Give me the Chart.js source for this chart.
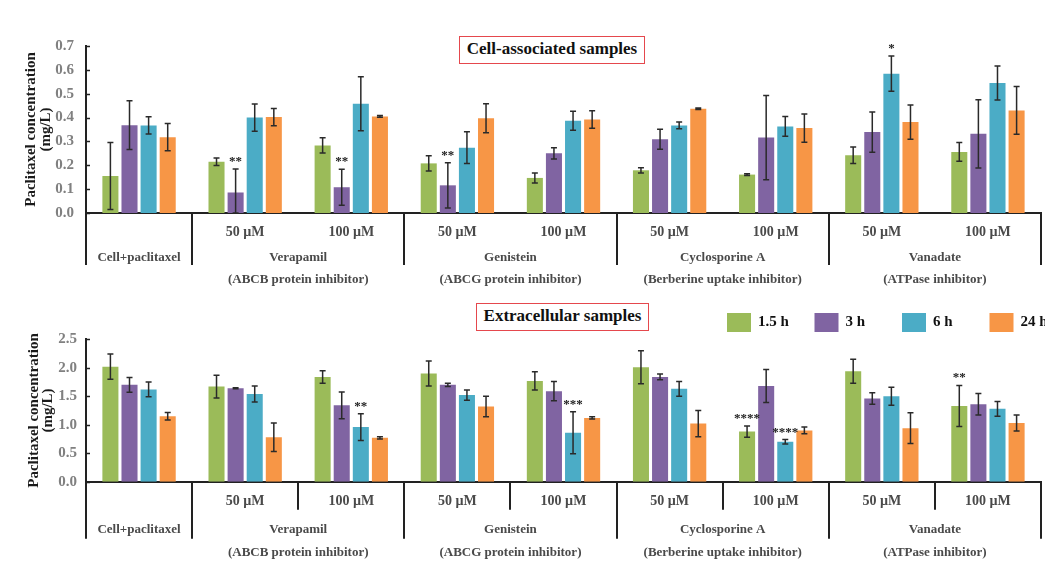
<!DOCTYPE html>
<html lang="en">
<head>
    <meta charset="UTF-8">
    <title>Paclitaxel concentration</title>
    <script src="https://cdn.jsdelivr.net/npm/chart.js"></script>
    <style>
        body {
            margin: 0;
            background: #fff;
            width: 1045px;
            height: 565px;
            position: relative;
            overflow: hidden;
            font-family: 'Liberation Serif', serif;
        }
        canvas {
            position: absolute;
            left: 0;
        }
        #cellChart { top: 0; }
        #extChart { top: 292px; }
        .box-title {
            position: absolute;
            box-sizing: border-box;
            border: 1.5px solid #e5484d;
            background: #fff;
            font-weight: bold;
            font-size: 17px;
            text-align: center;
            line-height: 24px;
            color: #111;
        }
    </style>
</head>
<body>
    <canvas id="cellChart" width="1045" height="292"></canvas>
    <canvas id="extChart" width="1045" height="273"></canvas>
    <div class="box-title" style="left:459px; top:36px; width:186px; height:28px;">Cell-associated samples</div>
    <div class="box-title" style="left:476px; top:303px; width:173px; height:28px;">Extracellular samples</div>

    <script>
        // categories along the x axis
        const categories = ['Cell+paclitaxel', 'Verapamil 50', 'Verapamil 100', 'Genistein 50', 'Genistein 100',
                            'Cyclosporine A 50', 'Cyclosporine A 100', 'Vanadate 50', 'Vanadate 100'];
        const doseLabels = ['', '50 µM', '100 µM', '50 µM', '100 µM', '50 µM', '100 µM', '50 µM', '100 µM'];
        const groupNames = ['Cell+paclitaxel', 'Verapamil', 'Genistein', 'Cyclosporine A', 'Vanadate'];
        const groupNotes = ['', '(ABCB protein inhibitor)', '(ABCG protein inhibitor)', '(Berberine uptake inhibitor)', '(ATPase inhibitor)'];
        const groupSpans = [[0, 0], [1, 2], [3, 4], [5, 6], [7, 8]];

        const seriesNames = ['1.5 h', '3 h', '6 h', '24 h'];
        const seriesColors = ['#9bbb59', '#8064a2', '#4bacc6', '#f79646'];

        // cell-associated (mg/L)
        const cell15 = [0.155, 0.215, 0.283, 0.208, 0.147, 0.179, 0.161, 0.242, 0.256];
        const cell3  = [0.368, 0.086, 0.108, 0.116, 0.250, 0.309, 0.316, 0.339, 0.332];
        const cell6  = [0.367, 0.400, 0.458, 0.274, 0.387, 0.367, 0.363, 0.584, 0.545];
        const cell24 = [0.318, 0.402, 0.405, 0.397, 0.392, 0.437, 0.356, 0.381, 0.430];
        const cell15Err = [0.140, 0.016, 0.032, 0.032, 0.021, 0.011, 0.004, 0.035, 0.039];
        const cell3Err  = [0.102, 0.098, 0.075, 0.095, 0.024, 0.042, 0.177, 0.084, 0.143];
        const cell6Err  = [0.036, 0.057, 0.113, 0.067, 0.040, 0.014, 0.041, 0.074, 0.071];
        const cell24Err = [0.057, 0.036, 0.004, 0.061, 0.037, 0.003, 0.059, 0.072, 0.100];
        // [category, series, mark]
        const cellStars = [[1, 1, '**'], [2, 1, '**'], [3, 1, '**'], [7, 2, '*']];

        // extracellular (mg/L)
        const ext15 = [2.02, 1.67, 1.84, 1.90, 1.77, 2.01, 0.88, 1.94, 1.33];
        const ext3  = [1.70, 1.64, 1.34, 1.70, 1.59, 1.84, 1.68, 1.46, 1.36];
        const ext6  = [1.62, 1.54, 0.96, 1.52, 0.86, 1.63, 0.70, 1.50, 1.28];
        const ext24 = [1.15, 0.78, 0.77, 1.32, 1.12, 1.02, 0.90, 0.94, 1.03];
        const ext15Err = [0.22, 0.20, 0.11, 0.22, 0.16, 0.29, 0.10, 0.21, 0.36];
        const ext3Err  = [0.13, 0.01, 0.235, 0.03, 0.17, 0.05, 0.29, 0.10, 0.19];
        const ext6Err  = [0.13, 0.14, 0.235, 0.09, 0.37, 0.13, 0.04, 0.16, 0.13];
        const ext24Err = [0.065, 0.25, 0.02, 0.18, 0.02, 0.23, 0.06, 0.27, 0.14];
        const extStars = [[2, 2, '**'], [4, 2, '***'], [6, 0, '****'], [6, 2, '****'], [8, 0, '**']];

        const serif = "'Liberation Serif', 'Times New Roman', serif";

        // error bars and significance marks on top of the bars
        const errorBars = {
            id: 'errorBars',
            afterDatasetsDraw(chart, args, opts) {
                const { ctx, scales: { y } } = chart;
                ctx.save();
                ctx.strokeStyle = '#2a2a2a';
                ctx.lineWidth = 1.5;
                chart.data.datasets.forEach((ds, i) => {
                    chart.getDatasetMeta(i).data.forEach((bar, j) => {
                        const v = ds.data[j], e = ds.errors[j];
                        const top = y.getPixelForValue(v + e);
                        const bot = y.getPixelForValue(Math.max(0, v - e));
                        ctx.beginPath();
                        ctx.moveTo(bar.x, top); ctx.lineTo(bar.x, bot);
                        ctx.moveTo(bar.x - 3, top); ctx.lineTo(bar.x + 3, top);
                        ctx.moveTo(bar.x - 3, bot); ctx.lineTo(bar.x + 3, bot);
                        ctx.stroke();
                    });
                });
                ctx.fillStyle = '#222';
                ctx.font = 'bold 13px ' + serif;
                ctx.textAlign = 'center';
                ctx.textBaseline = 'alphabetic';
                (opts.stars || []).forEach(([c, s, mark]) => {
                    const ds = chart.data.datasets[s];
                    const bar = chart.getDatasetMeta(s).data[c];
                    const top = y.getPixelForValue(ds.data[c] + ds.errors[c]);
                    ctx.fillText(mark, bar.x, top - 4);
                });
                ctx.restore();
            }
        };

        // category rows, separators, inner y ticks, axis title and legend
        const panelDecor = {
            id: 'panelDecor',
            afterDraw(chart, args, opts) {
                const { ctx, chartArea: area, scales: { x, y } } = chart;
                const half = (x.getPixelForValue(1) - x.getPixelForValue(0)) / 2;
                const edge = b => b < categories.length ? x.getPixelForValue(b) - half : x.getPixelForValue(b - 1) + half;
                const base = area.bottom;
                ctx.save();
                ctx.strokeStyle = '#222';
                ctx.lineWidth = 1.5;

                // inward tick marks on the value axis
                y.ticks.forEach(t => {
                    const py = Math.round(y.getPixelForValue(t.value)) + 0.5;
                    ctx.beginPath();
                    ctx.moveTo(area.left, py); ctx.lineTo(area.left + 4, py);
                    ctx.stroke();
                });

                // group separators below the axis
                ctx.lineWidth = 2;
                const majors = groupSpans.map(s => s[0]).concat([categories.length]);
                majors.forEach(b => {
                    const px = Math.round(edge(b));
                    ctx.beginPath();
                    ctx.moveTo(px, base); ctx.lineTo(px, base + opts.majorDrop);
                    ctx.stroke();
                });
                if (opts.minorDrop) {
                    groupSpans.forEach(([a, b]) => {
                        for (let k = a + 1; k <= b; k++) {
                            const px = Math.round(edge(k));
                            ctx.beginPath();
                            ctx.moveTo(px, base); ctx.lineTo(px, base + opts.minorDrop);
                            ctx.stroke();
                        }
                    });
                }

                // category labels
                ctx.textAlign = 'center';
                ctx.textBaseline = 'middle';
                ctx.fillStyle = '#4a4a4a';
                ctx.font = 'bold 14px ' + serif;
                doseLabels.forEach((lab, i) => {
                    if (lab) ctx.fillText(lab, x.getPixelForValue(i), base + opts.rows[0]);
                });
                ctx.font = 'bold 13px ' + serif;
                groupSpans.forEach(([a, b], g) => {
                    const cx = (x.getPixelForValue(a) + x.getPixelForValue(b)) / 2;
                    ctx.fillText(groupNames[g], cx, base + opts.rows[1]);
                    if (groupNotes[g]) ctx.fillText(groupNotes[g], cx, base + opts.rows[2]);
                });

                // y axis title
                ctx.fillStyle = '#1a1a1a';
                ctx.font = 'bold 15px ' + serif;
                const cy = (area.top + area.bottom) / 2;
                ['Paclitaxel concentration', '(mg/L)'].forEach((t, k) => {
                    ctx.save();
                    ctx.translate(opts.titleX[k], cy);
                    ctx.rotate(-Math.PI / 2);
                    ctx.fillText(t, 0, 0);
                    ctx.restore();
                });

                // legend row
                if (opts.legend) {
                    const [lx, ly, step] = opts.legend;
                    ctx.textAlign = 'left';
                    ctx.font = 'bold 15px ' + serif;
                    chart.data.datasets.forEach((ds, i) => {
                        const sx = lx + i * step;
                        ctx.fillStyle = ds.backgroundColor;
                        ctx.fillRect(sx, ly, 24, 19);
                        ctx.fillStyle = '#111';
                        ctx.fillText(ds.label, sx + 31, ly + 9.5);
                    });
                }
                ctx.restore();
            }
        };

        function makeChart(id, values, errors, cfg) {
            new Chart(document.getElementById(id), {
                type: 'bar',
                data: {
                    labels: categories,
                    datasets: values.map((vals, i) => ({
                        label: seriesNames[i],
                        data: vals,
                        errors: errors[i],
                        backgroundColor: seriesColors[i],
                        borderWidth: 0,
                        barPercentage: 0.84,
                        categoryPercentage: 0.72
                    }))
                },
                options: {
                    responsive: false,
                    animation: false,
                    layout: { padding: { top: cfg.padTop, right: 4, left: 0, bottom: 0 } },
                    plugins: {
                        legend: { display: false },
                        tooltip: { enabled: false },
                        errorBars: { stars: cfg.stars },
                        panelDecor: cfg.decor
                    },
                    scales: {
                        x: {
                            ticks: { display: false },
                            grid: { display: false, drawTicks: false },
                            border: { display: true, color: '#222', width: 2 },
                            afterFit: s => { s.height = cfg.xHeight; }
                        },
                        y: {
                            min: 0,
                            max: cfg.max,
                            ticks: {
                                stepSize: cfg.step,
                                padding: cfg.tickPad,
                                color: '#808080',
                                font: { family: serif, size: 15, weight: 'bold' },
                                callback: v => v.toFixed(1)
                            },
                            grid: { display: false, drawTicks: false },
                            border: { display: true, color: '#222', width: 2 },
                            afterFit: s => { s.width = 86; }
                        }
                    }
                },
                plugins: [errorBars, panelDecor]
            });
        }

        makeChart('cellChart', [cell15, cell3, cell6, cell24], [cell15Err, cell3Err, cell6Err, cell24Err], {
            max: 0.7, step: 0.1, padTop: 46, xHeight: 79, tickPad: 12, stars: cellStars,
            decor: { rows: [19, 45, 67], majorDrop: 52, minorDrop: 0, titleX: [31, 46] }
        });

        makeChart('extChart', [ext15, ext3, ext6, ext24], [ext15Err, ext3Err, ext6Err, ext24Err], {
            max: 2.5, step: 0.5, padTop: 47.3, xHeight: 83.3, tickPad: 9, stars: extStars,
            decor: { rows: [20, 48, 71], majorDrop: 57, minorDrop: 28, titleX: [34, 48], legend: [727, 21, 87.5] }
        });
    </script>
</body>
</html>
